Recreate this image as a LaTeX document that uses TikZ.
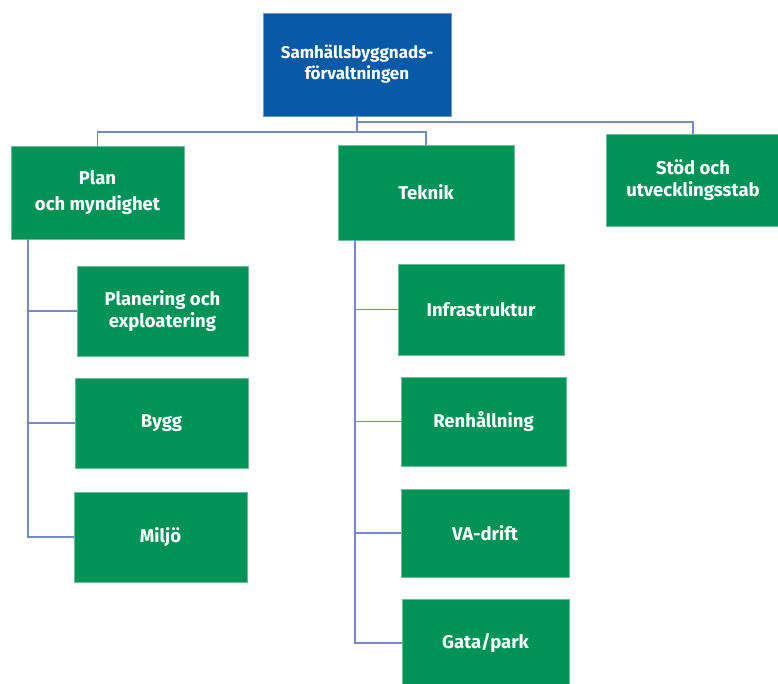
\documentclass[tikz,border=0pt]{standalone}
\usepackage{fontspec}
\setmainfont{Fira Sans}
\definecolor{boxgreen}{RGB}{0,147,87}
\definecolor{boxblue}{RGB}{8,90,166}
\definecolor{linecol}{RGB}{118,138,200}
\begin{document}
\begin{tikzpicture}[x=1pt,y=-1pt,
  box/.style={rectangle, fill=boxgreen, draw=boxgreen!60!white, line width=0.6pt, text=white,
    font=\fontsize{18.5}{22}\selectfont\bfseries, align=center, inner sep=0pt},
  conn/.style={draw=linecol, line width=1.4pt}]
\useasboundingbox (0,0) rectangle (778,684);
% top
\node[box, fill=boxblue, draw=boxblue!60!white, font=\fontsize{17}{21}\selectfont\bfseries, minimum width=188pt, minimum height=103pt] (top) at (357,64.5) {Samhällsbyggnads-\\förvaltningen};
% level 1
\node[box, minimum width=173pt, minimum height=93pt] (plan) at (97.5,192.5) {Plan\\[4pt]och myndighet};
\node[box, minimum width=176pt, minimum height=95pt] (teknik) at (426,192.5) {Teknik};
\node[box, minimum width=174pt, minimum height=92pt] (stod) at (693,180) {Stöd och\\utvecklingsstab};
% plan children
\node[box, minimum width=171pt, minimum height=90pt] (planering) at (162.5,311) {Planering och\\exploatering};
\node[box, minimum width=173pt, minimum height=90pt] (bygg) at (161.5,423) {Bygg};
\node[box, minimum width=173pt, minimum height=90pt] (miljo) at (160.5,537) {Miljö};
% teknik children
\node[box, minimum width=166pt, minimum height=91pt] (infra) at (481,309.5) {Infrastruktur};
\node[box, minimum width=165pt, minimum height=89pt] (renh) at (483.5,421.5) {Renhållning};
\node[box, minimum width=168pt, minimum height=88pt] (va) at (485,533) {VA-drift};
\node[box, minimum width=167pt, minimum height=88pt] (gata) at (485.5,643) {Gata/park};
% bus coordinates
\coordinate (busL) at (97.5,132);
\coordinate (busT) at (426,132);
\coordinate (busS) at (693,122);
\coordinate (pl) at (28,239);
\coordinate (tk) at (355,240);
% connectors
\draw[conn] (top.south) |- (busL) -- (plan.north);
\draw[conn] (top.south) |- (busT) -- (teknik.north);
\draw[conn] (top.south) |- (busS) -- (stod.north);
\draw[conn] (pl) |- (miljo.west);
\draw[conn] (pl |- planering.west) -- (planering.west);
\draw[conn] (pl |- bygg.west) -- (bygg.west);
\draw[conn] (tk) |- (gata.west);
\draw[conn] (tk |- infra.west) -- (infra.west);
\draw[conn] (tk |- renh.west) -- (renh.west);
\draw[conn] (tk |- va.west) -- (va.west);
\end{tikzpicture}
\end{document}
